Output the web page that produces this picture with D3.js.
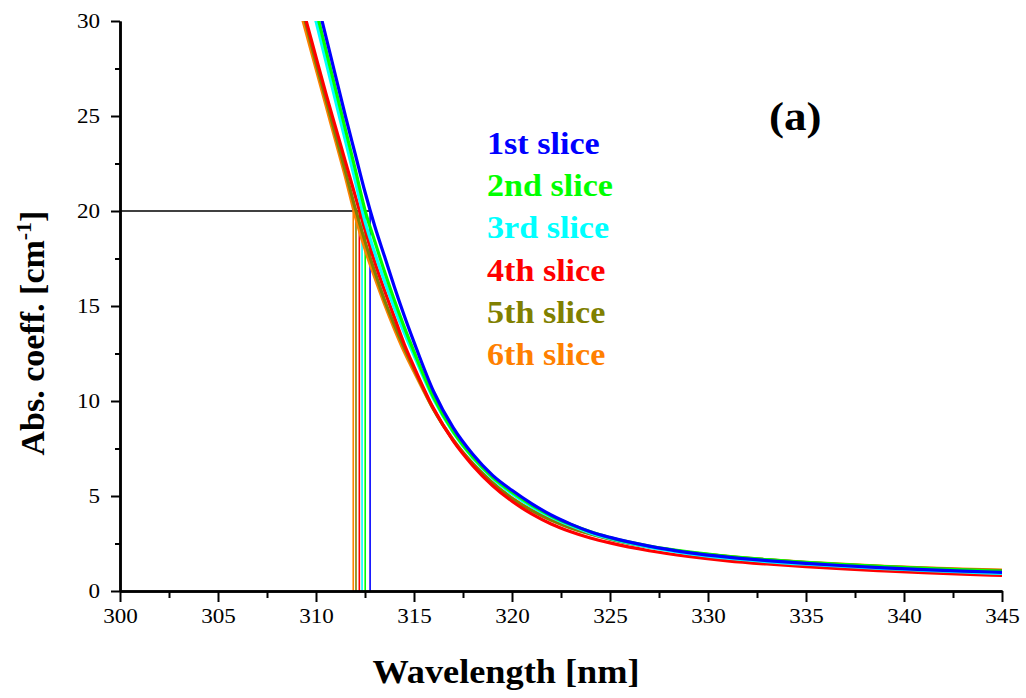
<!DOCTYPE html>
<html><head><meta charset="utf-8">
<script src="https://cdn.jsdelivr.net/npm/d3@7"></script>
<style>body{margin:0;background:#fff}svg{display:block}text{font-family:"Liberation Serif","Times New Roman",serif}</style>
</head><body>
<svg id="c" width="1026" height="698"></svg>
<script>
const wavelengths = [309,309.5,310,310.5,311,311.5,312,312.5,313,313.5,314,314.5,315,316,317,318,319,320,321,322,323,324,325,327,329,331,333,335,337,339,341,343,345];
const slice1 = [35.5,33.4,31.3,29.2,27.1,25.0,23.0,21.0,19.2,17.6,16.0,14.5,13.1,10.5,8.6,7.2,6.1,5.3,4.6,4.0,3.52,3.12,2.82,2.36,2.02,1.78,1.6,1.45,1.33,1.22,1.13,1.05,0.98];
const slice2 = [34.9,32.8,30.6,28.5,26.4,24.3,22.2,20.05,18.4,16.8,15.3,13.9,12.6,10.2,8.4,7.05,6.0,5.2,4.52,3.95,3.5,3.12,2.81,2.37,2.06,1.83,1.65,1.51,1.39,1.28,1.19,1.11,1.03];
const slice3 = [34.2,32.1,30.0,27.9,25.8,23.7,21.6,19.45,17.8,16.3,14.9,13.6,12.4,10.1,8.35,7.0,5.95,5.12,4.44,3.89,3.44,3.06,2.76,2.3,1.97,1.73,1.55,1.41,1.29,1.18,1.09,1.0,0.92];
const slice4 = [31.9,30.0,28.1,26.2,24.4,22.6,20.8,19.0,17.3,15.8,14.4,13.0,11.8,9.6,7.9,6.6,5.55,4.72,4.06,3.53,3.12,2.79,2.53,2.12,1.82,1.59,1.42,1.28,1.16,1.06,0.97,0.89,0.82];
const slice5 = [31.7,29.8,27.8,25.9,24.0,22.1,20.15,18.4,16.8,15.3,14.0,12.8,11.7,9.55,7.95,6.7,5.7,4.88,4.24,3.73,3.32,3.0,2.73,2.32,2.03,1.81,1.64,1.5,1.38,1.28,1.2,1.13,1.08];
const slice6 = [31.3,29.4,27.5,25.6,23.7,21.8,19.75,18.0,16.5,15.1,13.8,12.6,11.55,9.55,7.95,6.7,5.7,4.89,4.25,3.74,3.33,3.01,2.74,2.33,2.04,1.82,1.65,1.51,1.4,1.3,1.22,1.15,1.1];
const seriesNames = ["1st slice","2nd slice","3rd slice","4th slice","5th slice","6th slice"];
const seriesColors = ["#0000ff","#00ff00","#00ffff","#ff0000","#808000","#ff8000"];
const crossings = [312.76,312.51,312.35,312.21,312.04,311.9];
const crossLevel = 20;
const xTicks = [300,305,310,315,320,325,330,335,340,345];
const yTicks = [0,5,10,15,20,25,30];
const panelLabel = "(a)";

const allSeries = [slice1,slice2,slice3,slice4,slice5,slice6];
const svg = d3.select("#c");
const x = d3.scaleLinear().domain([300,345]).range([120,1002]);
const y = d3.scaleLinear().domain([0,30]).range([591,21]);

svg.append("defs").append("clipPath").attr("id","clip")
  .append("rect").attr("x",120).attr("y",21).attr("width",882).attr("height",570);

const plot = svg.append("g").attr("clip-path","url(#clip)");

plot.append("line").attr("x1",x(300)).attr("x2",x(d3.max(crossings)))
  .attr("y1",y(crossLevel)).attr("y2",y(crossLevel)).attr("stroke","#000").attr("stroke-width",1.3);

crossings.forEach((c,i)=>{
  plot.append("line").attr("x1",x(c)).attr("x2",x(c)).attr("y1",y(crossLevel)).attr("y2",y(0))
    .attr("stroke",seriesColors[i]).attr("stroke-width",1.6);
});

const line = d3.line().x((d,i)=>x(wavelengths[i])).y(d=>y(d)).curve(d3.curveMonotoneX);
for (let i=allSeries.length-1;i>=0;i--){
  plot.append("path").datum(allSeries[i]).attr("d",line).attr("fill","none")
    .attr("stroke",seriesColors[i]).attr("stroke-width",3.2);
}

const xAxis = svg.append("g").attr("transform","translate(0,591)")
  .call(d3.axisBottom(x).tickValues(xTicks).tickFormat(d3.format("d")).tickSizeInner(11).tickSizeOuter(0).tickPadding(2));
const xMinor = svg.append("g").attr("transform","translate(0,591)")
  .call(d3.axisBottom(x).tickValues(d3.range(302.5,345,5)).tickFormat("").tickSize(7).tickSizeOuter(0));
const yAxis = svg.append("g").attr("transform","translate(120,0)")
  .call(d3.axisLeft(y).tickValues(yTicks).tickFormat(d3.format("d")).tickSizeInner(9).tickSizeOuter(0).tickPadding(9));
const yMinor = svg.append("g").attr("transform","translate(120,0)")
  .call(d3.axisLeft(y).tickValues(d3.range(2.5,30,5)).tickFormat("").tickSize(5).tickSizeOuter(0));
[xAxis,xMinor,yAxis,yMinor].forEach(g=>{
  g.selectAll(".domain").attr("stroke","#000").attr("stroke-width",2.5);
  g.selectAll(".tick line").attr("stroke","#000").attr("stroke-width",2);
  g.selectAll(".tick text").attr("font-size",21).attr("fill","#000").style("font-family","'Liberation Serif',serif");
});
xAxis.selectAll(".tick text").attr("dy","0.9em").attr("transform","scale(1.1,1)");
yAxis.selectAll(".tick text").attr("x",0).attr("transform","translate(-20,0) scale(1.1,1)");

svg.append("text").attr("transform","translate(506,683) scale(1.1,1)").attr("text-anchor","middle")
  .attr("font-size",33).attr("font-weight","bold").text("Wavelength [nm]");
const yt = svg.append("text").attr("transform","translate(44,333) rotate(-90)").attr("text-anchor","middle")
  .attr("font-size",34).attr("font-weight","bold");
yt.append("tspan").text("Abs. coeff. [cm");
yt.append("tspan").attr("dy",-13).attr("font-size",22).text("-1");
yt.append("tspan").attr("dy",13).text("]");

svg.append("text").attr("transform","translate(769,130) scale(1.1,1)").attr("font-size",41).attr("font-weight","bold").text(panelLabel);

seriesNames.forEach((n,i)=>{
  svg.append("text").attr("transform",`translate(487,${154+i*42.2}) scale(1.1,1)`).attr("font-size",31).attr("font-weight","bold")
    .attr("fill",seriesColors[i]).text(n);
});
</script>
</body></html>
